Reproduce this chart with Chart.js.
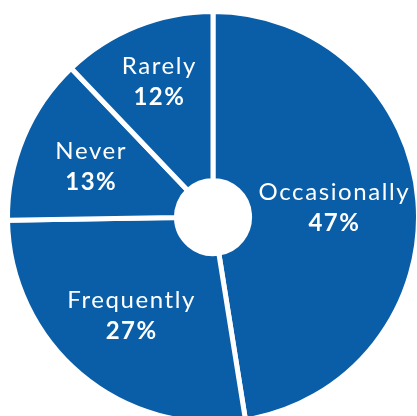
<!DOCTYPE html>
<html>
<head>
<meta charset="utf-8">
<script src="https://cdn.jsdelivr.net/npm/chart.js@4.4.1/dist/chart.umd.min.js"></script>
<style>
  html, body { margin: 0; padding: 0; background: #ffffff; }
  #wrap { width: 417px; height: 416px; }
</style>
</head>
<body>
<div id="wrap"><canvas id="chart" width="417" height="416"></canvas></div>
<script>
// Survey answers, in clockwise order from 12 o'clock
const categories = ['Occasionally', 'Frequently', 'Never', 'Rarely'];
const shares = [47, 27, 13, 12];
const valueLabels = ['47%', '27%', '13%', '12%'];

// How far across the ring each label sits (0 = hole edge, 1 = outer edge)
const labelDepth = [0.50, 0.54, 0.57, 0.65];

const BLUE = '#0a5ea8';
const FONT = 'Lato, "Open Sans", sans-serif';

const sliceLabels = {
  id: 'sliceLabels',
  afterDatasetsDraw(chart) {
    const ctx = chart.ctx;
    const arcs = chart.getDatasetMeta(0).data;
    ctx.save();
    ctx.fillStyle = '#ffffff';
    ctx.textAlign = 'center';
    ctx.textBaseline = 'alphabetic';
    arcs.forEach((arc, i) => {
      const p = arc.getProps(['x', 'y', 'startAngle', 'endAngle', 'innerRadius', 'outerRadius'], true);
      const mid = (p.startAngle + p.endAngle) / 2;
      const r = p.innerRadius + (p.outerRadius - p.innerRadius) * labelDepth[i];
      const cx = p.x + Math.cos(mid) * r;
      const cy = p.y + Math.sin(mid) * r;
      ctx.letterSpacing = '1.6px';
      ctx.font = '400 24px ' + FONT;
      ctx.fillText(categories[i], cx + 0.8, cy - 7);
      ctx.letterSpacing = '1.5px';
      ctx.font = '700 24px ' + FONT;
      ctx.fillText(valueLabels[i], cx + 0.8, cy + 24);
    });
    ctx.restore();
  }
};

new Chart(document.getElementById('chart'), {
  type: 'doughnut',
  data: {
    labels: categories,
    datasets: [{
      data: shares,
      backgroundColor: BLUE,
      borderColor: '#ffffff',
      borderWidth: 5,
      hoverOffset: 0
    }]
  },
  options: {
    responsive: false,
    animation: false,
    radius: 205.5,
    cutout: '17.8%',
    rotation: 0,
    layout: { padding: { left: 9, right: 0, top: 18, bottom: 0 } },
    plugins: {
      legend: { display: false },
      tooltip: { enabled: false }
    }
  },
  plugins: [sliceLabels]
});
</script>
</body>
</html>
